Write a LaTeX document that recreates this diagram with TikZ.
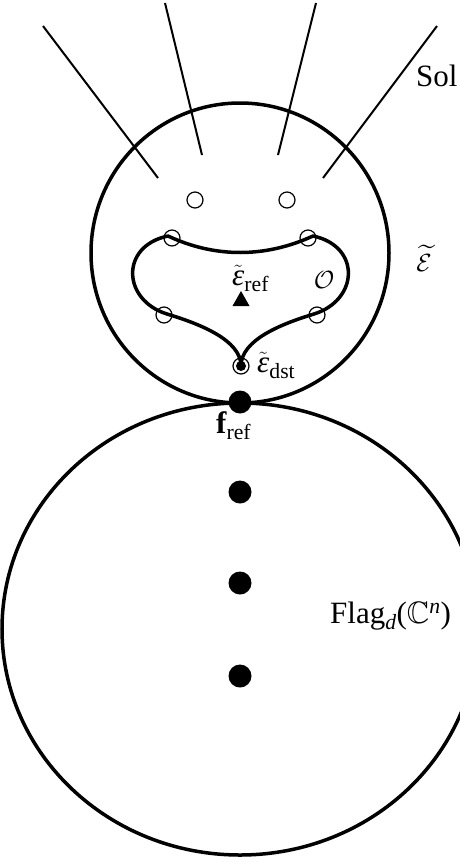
\documentclass[tikz,border=0pt]{standalone}
\usepackage{amssymb}
\usepackage{fontspec}
\setmainfont{Liberation Serif}
\newcommand{\myeps}{\mbox{\itshape ε}}
\begin{document}
\begin{tikzpicture}[x=1pt,y=-1pt,
  bigline/.style={line width=3.5pt},
  ray/.style={line width=2pt},
  hole/.style={circle, draw, line width=1.2pt, minimum size=16pt, inner sep=0pt},
  dot/.style={circle, fill, minimum size=23pt, inner sep=0pt},
  lab/.style={font=\fontsize{31}{36}\selectfont, inner sep=0pt}]
\useasboundingbox (0,0) rectangle (460,862);
\clip (0,0) rectangle (460,862);
% big shapes
\draw[bigline] (240,253) circle[x radius=149pt, y radius=150pt];
\draw[bigline] (240,629) circle[x radius=238pt, y radius=226pt];
% rays
\coordinate (r1a) at (43,26);  \coordinate (r1b) at (158,178);
\coordinate (r2a) at (165,3);  \coordinate (r2b) at (202,155);
\coordinate (r3a) at (316,3);  \coordinate (r3b) at (278,155);
\coordinate (r4a) at (437,26); \coordinate (r4b) at (323,178);
\draw[ray] (r1a) -- (r1b);
\draw[ray] (r2a) -- (r2b);
\draw[ray] (r3a) -- (r3b);
\draw[ray] (r4a) -- (r4b);
% small holes
\node[hole] (h1) at (195,200) {};
\node[hole] (h2) at (287,200) {};
\node[hole] (h3) at (172,238) {};
\node[hole] (h4) at (308,238) {};
\node[hole] (h5) at (164,315) {};
\node[hole] (h6) at (317,315) {};
\node[hole] (cusp) at (241,366) {};
\fill (cusp.center) circle[radius=5pt];
% the curve O
\coordinate (C) at (241,366);
\coordinate (L2) at (167,314);
\coordinate (L1) at (168,236);
\coordinate (R1) at (313,236);
\coordinate (R2) at (314,314);
\draw[bigline, line join=round]
  (C) .. controls (241,340) and (200,324) .. (L2)
      .. controls (122,300) and (120,246) .. (L1)
      .. controls (215,258) and (265,258) .. (R1)
      .. controls (361,246) and (359,300) .. (R2)
      .. controls (281,324) and (241,340) .. (C);
% triangle
\fill (241,291) -- (249.5,306) -- (232.5,306) -- cycle;
% dots
\node[dot] (fref) at (240,402) {};
\node[dot] (p1) at (240,492) {};
\node[dot] (p2) at (240,583) {};
\node[dot] (p3) at (240,676) {};
% labels
\node[lab, anchor=base west] (sol) at (416,86) {Sol};
\node[lab] (eps) at (424,258) {$\widetilde{\mathcal{E}}$};
\node[lab] (orb) at (324,280) {$\mathcal{O}$};
\node[lab, anchor=base west] (eref) at (232,285) {$\tilde{\myeps}_{\mathrm{ref}}$};
\node[lab, anchor=base west] (edst) at (257,372) {$\tilde{\myeps}_{\mathrm{dst}}$};
\node[lab, anchor=base west] (flab) at (216,433) {$\mathbf{f}_{\mathrm{ref}}$};
\node[lab, anchor=base west] (flag) at (330,623) {Flag$_{\mathit{d}}$($\mathbb{C}^{\mathit{n}}$)};
\end{tikzpicture}
\end{document}
